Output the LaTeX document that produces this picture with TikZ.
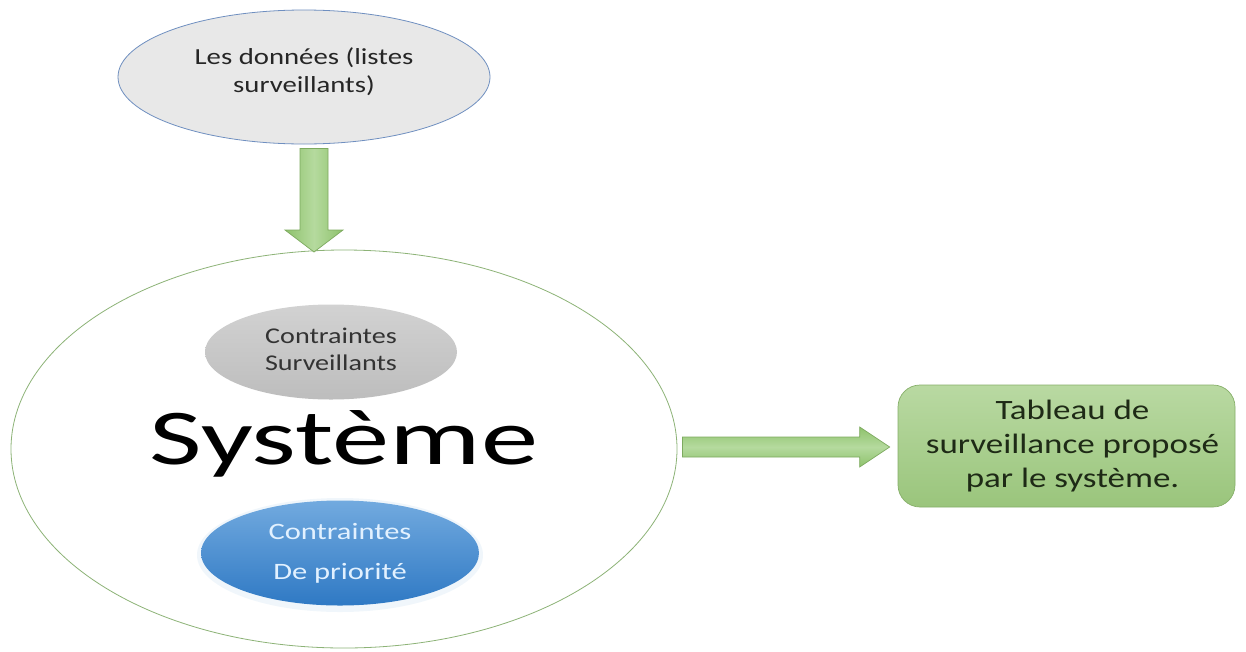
\documentclass[tikz,border=0pt]{standalone}
\usepackage{fontspec}
\setmainfont{Carlito}
\newfontfamily\fA[FakeStretch=1.25]{Carlito}
\newfontfamily\fB[FakeStretch=1.3]{Carlito}
\newfontfamily\fS[FakeStretch=1.45]{Carlito}
\usetikzlibrary{shapes.geometric,calc}
\definecolor{topfill}{HTML}{E8E8E8}
\definecolor{topline}{HTML}{6F8FC0}
\definecolor{sysline}{HTML}{8DB377}
\definecolor{greyA}{HTML}{D2D2D2}
\definecolor{greyB}{HTML}{BDBDBD}
\definecolor{blueA}{HTML}{72AADF}
\definecolor{blueB}{HTML}{2F79C4}
\definecolor{blueText}{HTML}{E2F1FF}
\definecolor{grA}{HTML}{B9D9A2}
\definecolor{grB}{HTML}{9AC57C}
\definecolor{grLine}{HTML}{86AF69}
\definecolor{arrA}{HTML}{8EC26C}
\definecolor{arrB}{HTML}{B5DA9E}
\definecolor{arrLine}{HTML}{7DAA5F}
\definecolor{darkText}{HTML}{1E2A16}
\tikzset{
  ovalbox/.style={ellipse, inner sep=0pt},
  blockarrow/.style={draw=arrLine, line width=0.7pt, line join=miter},
}
\begin{document}
\begin{tikzpicture}[x=1pt,y=-1pt]
\useasboundingbox (0,0) rectangle (1246,651);
\fill[white] (0,0) rectangle (1246,651);

% top ellipse
\node[ovalbox, fill=topfill, draw=topline, line width=0.8pt,
      minimum width=372, minimum height=134] (data) at (304,77) {};
\node[align=center, font=\fA\fontsize{23}{28}\selectfont, text=black!85] (datat)
      at ($(data.center)+(0,-5)$) {Les données (listes\\surveillants)};

% big system ellipse
\node[ovalbox, draw=sysline, line width=0.8pt,
      minimum width=666, minimum height=398] (sys) at (344,449) {};

% grey ellipse
\node[ovalbox, top color=greyA, bottom color=greyB,
      minimum width=252, minimum height=95] (cs) at (331,352) {};
\node[align=center, font=\fA\fontsize{22.5}{27}\selectfont, text=black!80] (cst)
      at ($(cs.center)+(0,-3)$) {Contraintes\\Surveillants};

% Systeme text
\node[anchor=base, inner sep=0pt, font=\fS\fontsize{79}{90}\selectfont] (syst)
      at (344,464) {Système};

% blue ellipse with soft halo
\fill[blueA, opacity=0.10] (340,555) ellipse [x radius=143, y radius=57];
\node[ovalbox, top color=blueA, bottom color=blueB,
      minimum width=278, minimum height=105] (cp) at (340,553) {};
\node[align=center, font=\fB\fontsize{23.5}{40}\selectfont, text=blueText] (cpt)
      at ($(cp.center)+(0,0)$) {Contraintes\\De priorité};

% result box
\node[rounded corners=22pt, top color=grA, bottom color=grB, draw=grLine,
      line width=0.7pt, minimum width=337, minimum height=122, inner sep=0pt] (res)
      at (1066.5,446) {};
\node[align=center, font=\fA\fontsize{28}{34}\selectfont, text=darkText] (rest)
      at ($(res.center)+(6,0)$) {Tableau de\\surveillance proposé\\par le système.};

% down block arrow: data -> sys
\coordinate (d1) at ($(data.south)+(10,4)$);
\coordinate (d2) at (314,252);
\path[blockarrow, left color=arrA, right color=arrA, middle color=arrB]
  ($(d1)+(-14,0)$) -- ($(d2)+(-14,-22)$) -- ($(d2)+(-29,-22)$) -- (d2)
  -- ($(d2)+(29,-22)$) -- ($(d2)+(14,-22)$) -- ($(d1)+(14,0)$) -- cycle;

% right block arrow: sys -> res
\coordinate (r1) at ($(sys.east)+(5,-2)$);
\coordinate (r2) at ($(res.west)+(-8,1)$);
\path[blockarrow, top color=arrA, bottom color=arrA, middle color=arrB]
  ($(r1)+(0,-10)$) -- ($(r2)+(-30,-10)$) -- ($(r2)+(-30,-20)$) -- (r2)
  -- ($(r2)+(-30,20)$) -- ($(r2)+(-30,10)$) -- ($(r1)+(0,10)$) -- cycle;
\end{tikzpicture}
\end{document}
